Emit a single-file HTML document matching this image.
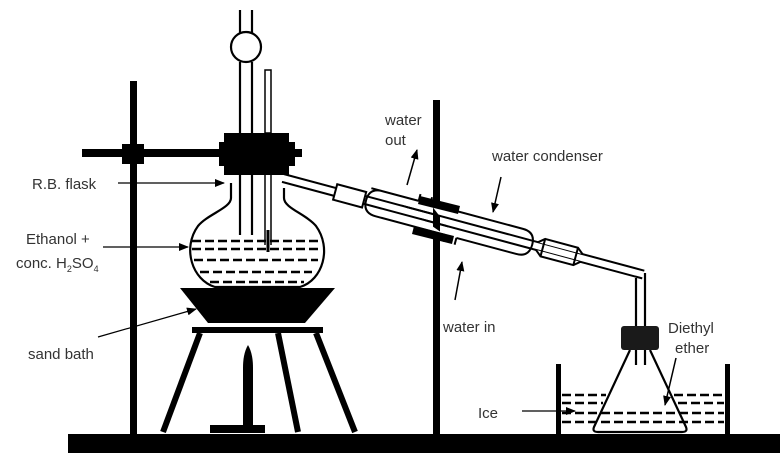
<!DOCTYPE html>
<html><head><meta charset="utf-8"><style>
html,body{margin:0;padding:0;background:#fff;}
svg{display:block}
text{font-family:"Liberation Sans",Arial,sans-serif;font-size:15px;fill:#333}
</style></head><body>
<svg width="780" height="453" viewBox="0 0 780 453" xmlns="http://www.w3.org/2000/svg">
<defs><marker id="ah" markerWidth="10" markerHeight="8" refX="9" refY="4" orient="auto" markerUnits="userSpaceOnUse"><path d="M0,0 L10,4 L0,8 Z" fill="#000"/></marker></defs>
<rect x="68" y="434" width="712" height="19" fill="#000"/>
<rect x="130" y="81" width="7" height="353" fill="#000"/>
<rect x="82" y="149" width="220" height="8" fill="#000"/>
<rect x="122" y="144" width="22" height="20" fill="#000"/>
<rect x="224" y="133" width="65" height="42" fill="#000"/>
<rect x="219" y="142" width="76" height="24" fill="#000"/>
<g fill="none" stroke="#000" stroke-width="2.2">
<line x1="240" y1="10" x2="240" y2="34"/><line x1="252" y1="10" x2="252" y2="34"/>
<circle cx="246" cy="47" r="15"/>
<line x1="240" y1="62" x2="240" y2="133"/><line x1="252" y1="62" x2="252" y2="133"/>
<line x1="240" y1="175" x2="240" y2="235"/><line x1="252" y1="175" x2="252" y2="235"/>
<rect x="265" y="70" width="6" height="63" stroke-width="1.5"/>
<line x1="265" y1="175" x2="265" y2="245" stroke-width="1.5"/><line x1="271" y1="175" x2="271" y2="245" stroke-width="1.5"/>
<line x1="268" y1="230" x2="268" y2="252" stroke-width="3"/>
<path d="M231,183 L231,198 C231,208 208,214 198,226 C182,248 192,280 215,287 L300,287 C323,280 332,248 316,226 C306,214 284,208 284,198 L284,188"/>
</g>
<g stroke="#000" stroke-width="2.5" stroke-dasharray="9,4">
<line x1="192" y1="241" x2="320" y2="241"/>
<line x1="192" y1="249" x2="320" y2="249"/>
<line x1="194" y1="260" x2="318" y2="260"/>
<line x1="200" y1="272" x2="312" y2="272"/>
<line x1="210" y1="282" x2="304" y2="282"/>
</g>
<path d="M180,288 L335,288 L305,323 L208,323 Z" fill="#000"/>
<rect x="192" y="327" width="131" height="6" fill="#000"/>
<g stroke="#000" stroke-width="6">
<line x1="200" y1="333" x2="163" y2="432"/>
<line x1="278" y1="333" x2="298" y2="432"/>
<line x1="316" y1="333" x2="355" y2="432"/>
</g>
<path d="M248,345 C244,352 243,360 243,368 L253,368 C253,360 252,352 248,345Z" fill="#000"/>
<rect x="243" y="368" width="10" height="58" fill="#000"/>
<rect x="210" y="425" width="55" height="8" fill="#000"/>
<rect x="433" y="100" width="7" height="334" fill="#000"/>
<g transform="rotate(15 283 178)" fill="none" stroke="#000" stroke-width="2">
<line x1="283" y1="174" x2="656" y2="174"/><line x1="283" y1="182" x2="656" y2="182"/>
<rect x="337" y="170" width="30" height="16" fill="#fff"/>
<path d="M371,165 L420,165 M432,165 L528,165 Q541,165 541,178 Q541,191 528,191 L466,191 M454,191 L382,191 Q369,191 369,178 Q369,165 382,165" fill="#fff"/>
<line x1="370" y1="174" x2="541" y2="174"/><line x1="370" y1="182" x2="541" y2="182"/>
<path d="M420,165 L420,158 M432,165 L432,158 M454,191 L454,198 M466,191 L466,198"/>
<path d="M546,182 L552,187 L586,187 L592,182 M546,174 L552,169 L586,169 L592,174" fill="#fff"/>
<line x1="552" y1="169" x2="552" y2="187"/><line x1="586" y1="169" x2="586" y2="187"/>
</g>
<path d="M420,196 L460,206 L458,214 L418,204 Z" fill="#000"/>
<path d="M414,226 L454,236 L452,244 L412,234 Z" fill="#000"/>
<g fill="none" stroke="#000" stroke-width="2.2">
<line x1="636" y1="278" x2="636" y2="326"/><line x1="645" y1="273" x2="645" y2="326"/>
<line x1="636" y1="350" x2="636" y2="365"/><line x1="645" y1="350" x2="645" y2="365"/>
<path d="M630,350 L594,427 Q592,432 598,432 L682,432 Q688,432 686,427 L650,350"/>
</g>
<rect x="621" y="326" width="38" height="24" rx="3" fill="#1a1a1a"/>
<rect x="556" y="364" width="5" height="70" fill="#000"/>
<rect x="725" y="364" width="5" height="70" fill="#000"/>
<g stroke="#000" stroke-width="2.5" stroke-dasharray="9,4">
<line x1="562" y1="395" x2="606" y2="395"/><line x1="674" y1="395" x2="724" y2="395"/>
<line x1="562" y1="403" x2="603" y2="403"/><line x1="678" y1="403" x2="724" y2="403"/>
<line x1="562" y1="413" x2="724" y2="413"/>
<line x1="562" y1="422" x2="724" y2="422"/>
</g>
<g stroke="#000" stroke-width="1.2" fill="none">
<line x1="118" y1="183" x2="224" y2="183" marker-end="url(#ah)"/>
<line x1="103" y1="247" x2="188" y2="247" marker-end="url(#ah)"/>
<line x1="98" y1="337" x2="196" y2="309" marker-end="url(#ah)"/>
<line x1="407" y1="185" x2="417" y2="150" stroke-width="1.5" marker-end="url(#ah)"/>
<line x1="501" y1="177" x2="493" y2="212" stroke-width="1.5" marker-end="url(#ah)"/>
<line x1="455" y1="300" x2="462" y2="262" stroke-width="1.5" marker-end="url(#ah)"/>
<line x1="676" y1="358" x2="665" y2="405" stroke-width="1.5" marker-end="url(#ah)"/>
<line x1="522" y1="411" x2="575" y2="411" marker-end="url(#ah)"/>
</g>
<text x="32" y="189">R.B. flask</text>
<text x="26" y="244">Ethanol +</text>
<text x="16" y="268">conc. H<tspan font-size="9" dy="4">2</tspan><tspan dy="-4">SO</tspan><tspan font-size="9" dy="4">4</tspan></text>
<text x="28" y="359">sand bath</text>
<text x="385" y="125">water</text>
<text x="385" y="145">out</text>
<text x="492" y="161">water condenser</text>
<text x="443" y="332">water in</text>
<text x="668" y="333">Diethyl</text>
<text x="675" y="353">ether</text>
<text x="478" y="418">Ice</text>
</svg>
</body></html>
